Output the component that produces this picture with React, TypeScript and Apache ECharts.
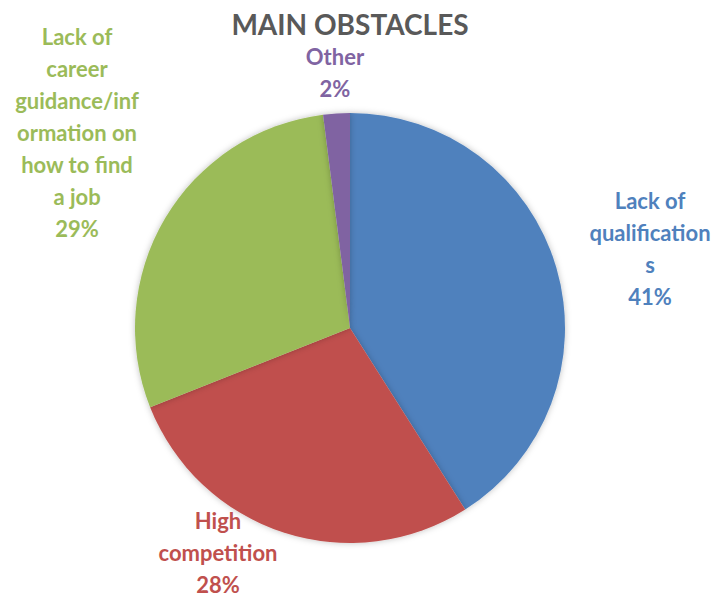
import React, { useEffect, useRef } from "react";
import * as echarts from "echarts";

const categories = [
  "Lack of qualifications",
  "High competition",
  "Lack of career guidance/information on how to find a job",
  "Other",
];
const labelLines = [
  ["Lack of", "qualification", "s"],
  ["High", "competition"],
  ["Lack of", "career", "guidance/inf", "ormation on", "how to find", "a job"],
  ["Other"],
];
const values = [41, 28, 29, 2];
const colors = ["#4F81BD", "#C0504D", "#9BBB59", "#8064A2"];
const labelPos = [
  [650, 248],
  [218, 552],
  [77, 132],
  [335, 72],
];

export default function App() {
  const ref = useRef<HTMLDivElement>(null);
  useEffect(() => {
    const chart = echarts.init(ref.current!, null, { renderer: "svg" });
    chart.setOption({
      animation: false,
      backgroundColor: "#ffffff",
      title: {
        text: "MAIN OBSTACLES",
        left: 350,
        top: 10,
        padding: 0,
        textAlign: "center",
        textStyle: {
          fontFamily: "Lato",
          fontWeight: "bold",
          fontSize: 28,
          lineHeight: 28,
          color: "#595959",
        },
      },
      series: [
        {
          type: "pie",
          center: [350, 328],
          radius: 215,
          startAngle: 90,
          clockwise: true,
          labelLine: { show: false },
          label: {
            show: true,
            position: "outside",
            fontFamily: "Lato",
            fontWeight: "bold",
            fontSize: 22,
            lineHeight: 32,
            align: "center",
            overflow: "none",
            width: 300,
            formatter: (p: any) =>
              labelLines[p.dataIndex].join("\n") + "\n" + Math.round(p.percent) + "%",
          },
          labelLayout: (params: any) => ({
            x: labelPos[params.dataIndex][0],
            y: labelPos[params.dataIndex][1],
            align: "center",
            verticalAlign: "middle",
            hideOverlap: false,
          }),
          itemStyle: {
            shadowBlur: 6,
            shadowColor: "rgba(0,0,0,0.25)",
          },
          emphasis: { disabled: true },
          data: categories.map((c, i) => ({
            name: c,
            value: values[i],
            itemStyle: { color: colors[i] },
            label: { color: colors[i] },
          })),
        },
      ],
    });
    return () => chart.dispose();
  }, []);
  return (
    <div
      ref={ref}
      style={{ position: "fixed", left: 0, top: 0, width: 715, height: 596 }}
    />
  );
}
